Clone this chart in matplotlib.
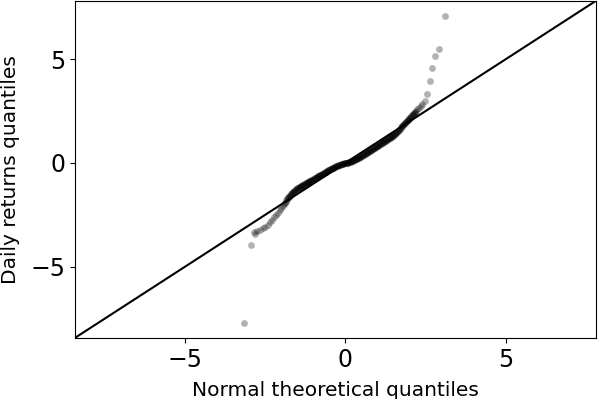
import matplotlib
matplotlib.use("Agg")
import matplotlib.pyplot as plt

# Normal theoretical quantiles (x) and daily-returns sample quantiles (y)
theoretical_q = [
    -3.15, -2.94, -2.84, -2.82, -2.76, -2.67, -2.58, -2.50, -2.42, -2.35, -2.28, -2.22, -2.16, -2.10,
    -2.05, -2.00, -1.95,
    -1.90, -1.88, -1.86, -1.84, -1.82, -1.80, -1.78, -1.76, -1.74, -1.72, -1.70, -1.68, -1.66, -1.64,
    -1.62, -1.60, -1.58, -1.56, -1.54, -1.52, -1.50, -1.48, -1.46, -1.44, -1.42, -1.40, -1.38, -1.36,
    -1.34, -1.32, -1.30, -1.28, -1.26, -1.24, -1.22, -1.20, -1.18, -1.16, -1.14, -1.12, -1.10, -1.08,
    -1.06, -1.04, -1.02, -1.00, -0.98, -0.96, -0.94, -0.92, -0.90, -0.88, -0.86, -0.84, -0.82, -0.80,
    -0.78, -0.76, -0.74, -0.72, -0.70, -0.68, -0.66, -0.64, -0.62, -0.60, -0.58, -0.56, -0.54, -0.52,
    -0.50, -0.48, -0.46, -0.44, -0.42, -0.40, -0.38, -0.36, -0.34, -0.32, -0.30, -0.28, -0.26, -0.24,
    -0.22, -0.20, -0.18, -0.16, -0.14, -0.12, -0.10, -0.08, -0.06, -0.04, -0.02, 0.00, 0.02, 0.04,
    0.06, 0.08, 0.10, 0.12, 0.14, 0.16, 0.18, 0.20, 0.22, 0.24, 0.26, 0.28, 0.30, 0.32, 0.34, 0.36,
    0.38, 0.40, 0.42, 0.44, 0.46, 0.48, 0.50, 0.52, 0.54, 0.56, 0.58, 0.60, 0.62, 0.64, 0.66, 0.68,
    0.70, 0.72, 0.74, 0.76, 0.78, 0.80, 0.82, 0.84, 0.86, 0.88, 0.90, 0.92, 0.94, 0.96, 0.98, 1.00,
    1.02, 1.04, 1.06, 1.08, 1.10, 1.12, 1.14, 1.16, 1.18, 1.20, 1.22, 1.24, 1.26, 1.28, 1.30, 1.32,
    1.34, 1.36, 1.38, 1.40, 1.42, 1.44, 1.46, 1.48, 1.50, 1.52, 1.54, 1.56, 1.58, 1.60, 1.62, 1.64,
    1.66, 1.68, 1.70, 1.72, 1.74, 1.76, 1.78, 1.80, 1.82, 1.84, 1.86, 1.88, 1.90, 1.92, 1.94, 1.96,
    1.98, 2.00, 2.02, 2.04, 2.06, 2.08, 2.10, 2.12, 2.14, 2.16, 2.18, 2.20,
    2.25, 2.30, 2.35, 2.40, 2.47, 2.55, 2.63, 2.70, 2.80, 2.92, 3.12,
]
returns_q = [
    -7.73, -3.94, -3.35, -3.41, -3.30, -3.24, -3.16, -3.07, -2.97, -2.86, -2.74, -2.62, -2.52, -2.40,
    -2.28, -2.18, -2.08,
    -1.96, -1.91, -1.86, -1.80, -1.75, -1.70, -1.66, -1.62, -1.58, -1.54, -1.50, -1.46, -1.43, -1.41,
    -1.38, -1.35, -1.33, -1.30, -1.28, -1.25, -1.23, -1.21, -1.19, -1.16, -1.14, -1.12, -1.11, -1.09,
    -1.07, -1.06, -1.04, -1.02, -1.01, -0.99, -0.97, -0.96, -0.94, -0.92, -0.90, -0.89, -0.87, -0.85,
    -0.83, -0.82, -0.80, -0.78, -0.76, -0.74, -0.73, -0.71, -0.69, -0.67, -0.65, -0.64, -0.62, -0.60,
    -0.58, -0.56, -0.55, -0.53, -0.51, -0.49, -0.47, -0.46, -0.44, -0.42, -0.40, -0.38, -0.36, -0.34,
    -0.33, -0.31, -0.29, -0.28, -0.26, -0.25, -0.23, -0.22, -0.20, -0.19, -0.17, -0.16, -0.14, -0.13,
    -0.12, -0.11, -0.10, -0.09, -0.07, -0.06, -0.05, -0.04, -0.03, -0.02, -0.01, -0.01, 0.00, 0.00,
    0.01, 0.02, 0.03, 0.04, 0.04, 0.05, 0.07, 0.08, 0.10, 0.11, 0.13, 0.14, 0.16, 0.17, 0.19, 0.20,
    0.22, 0.24, 0.26, 0.28, 0.29, 0.31, 0.33, 0.35, 0.37, 0.38, 0.40, 0.42, 0.44, 0.46, 0.48, 0.50,
    0.52, 0.54, 0.56, 0.58, 0.60, 0.62, 0.64, 0.66, 0.68, 0.70, 0.72, 0.74, 0.76, 0.78, 0.80, 0.82,
    0.84, 0.86, 0.88, 0.90, 0.92, 0.94, 0.96, 0.98, 1.00, 1.02, 1.04, 1.06, 1.08, 1.10, 1.12, 1.14,
    1.16, 1.18, 1.20, 1.22, 1.24, 1.27, 1.29, 1.32, 1.34, 1.37, 1.40, 1.42, 1.45, 1.47, 1.50, 1.54,
    1.57, 1.61, 1.65, 1.68, 1.72, 1.76, 1.79, 1.83, 1.86, 1.90, 1.93, 1.96, 1.99, 2.02, 2.06, 2.09,
    2.12, 2.15, 2.19, 2.22, 2.25, 2.29, 2.32, 2.36, 2.39, 2.43, 2.46, 2.50,
    2.58, 2.66, 2.76, 2.86, 3.00, 3.32, 3.94, 4.58, 5.16, 5.48, 7.07,
]

axis_limits = (-8.44, 7.82)
tick_values = [-5, 0, 5]

fig = plt.figure(figsize=(5.99, 3.99), dpi=100)
ax = fig.add_axes([0.125, 0.153, 0.870, 0.845])

ax.scatter(theoretical_q, returns_q, s=24, color="black", alpha=0.3, linewidths=0)
ax.axline((0, 0), slope=1, color="black", linewidth=1.5)

ax.set_xlim(axis_limits)
ax.set_ylim(axis_limits)
ax.set_xticks(tick_values)
ax.set_yticks(tick_values)
ax.tick_params(labelsize=17)
ax.set_xlabel("Normal theoretical quantiles", fontsize=14.5, labelpad=7)
ax.set_ylabel("Daily returns quantiles", fontsize=14.5, labelpad=7)

fig.savefig("out.png", dpi=100)
